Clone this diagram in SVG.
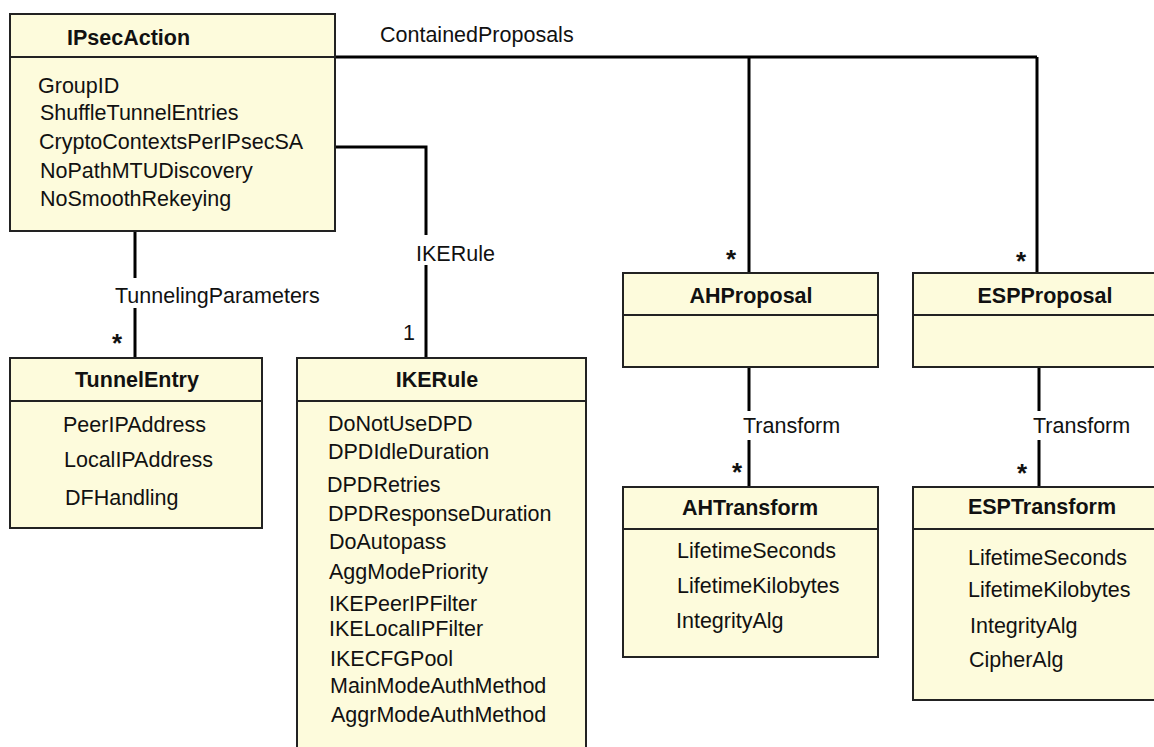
<svg xmlns="http://www.w3.org/2000/svg" width="1154" height="747" viewBox="0 0 1154 747">
<style>
.bg{fill:#ffffff}
.box{fill:#fdfbdc;stroke:#222;stroke-width:2}
.div{stroke:#222;stroke-width:2}
.conn{stroke:#000;stroke-width:3;fill:none}
text{font-family:"Liberation Sans",Arial,Helvetica,sans-serif;font-size:21.5px;fill:#111}
.ttl{font-weight:bold;text-anchor:middle}
.mid{text-anchor:middle}
.star{font-weight:bold;font-size:26px;text-anchor:middle}
</style>
<rect class="bg" x="0" y="0" width="1154" height="747"/>
<g id="connectors">
<path class="conn" d="M335,57 H1037 M749,57 V273 M1037,57 V273"/>
<path class="conn" d="M335,147 H426 V235 M426,265 V358"/>
<path class="conn" d="M135,231 V278 M135,308 V358"/>
<path class="conn" d="M749,367 V411 M749,440 V487"/>
<path class="conn" d="M1039,367 V411 M1039,440 V487"/>
<text x="380" y="42">ContainedProposals</text>
<text x="416" y="261">IKERule</text>
<text x="115" y="303">TunnelingParameters</text>
<text x="743" y="433">Transform</text>
<text x="1033" y="433">Transform</text>
<text x="403" y="340">1</text>
<text class="star" x="731" y="268">*</text>
<text class="star" x="1021" y="270">*</text>
<text class="star" x="117" y="352">*</text>
<text class="star" x="737" y="481">*</text>
<text class="star" x="1022" y="482">*</text>
</g>
<g id="IPsecAction">
<rect class="box" x="10" y="14" width="325" height="217"/>
<line class="div" x1="10" y1="57" x2="335" y2="57"/>
<text x="67" y="45" font-weight="bold">IPsecAction</text>
<text x="38" y="93">GroupID</text>
<text x="40" y="120">ShuffleTunnelEntries</text>
<text x="39" y="149">CryptoContextsPerIPsecSA</text>
<text x="40" y="178">NoPathMTUDiscovery</text>
<text x="40" y="206">NoSmoothRekeying</text>
</g>
<g id="TunnelEntry">
<rect class="box" x="10" y="358" width="252" height="170"/>
<line class="div" x1="10" y1="401" x2="262" y2="401"/>
<text class="ttl" x="137" y="387">TunnelEntry</text>
<text x="63" y="432">PeerIPAddress</text>
<text x="64" y="467">LocalIPAddress</text>
<text x="65" y="505">DFHandling</text>
</g>
<g id="IKERule">
<rect class="box" x="297" y="358" width="289" height="400"/>
<line class="div" x1="297" y1="401" x2="586" y2="401"/>
<text class="ttl" x="437" y="387">IKERule</text>
<text x="328" y="431">DoNotUseDPD</text>
<text x="328" y="459">DPDIdleDuration</text>
<text x="327" y="492">DPDRetries</text>
<text x="328" y="521">DPDResponseDuration</text>
<text x="329" y="549">DoAutopass</text>
<text x="329" y="579">AggModePriority</text>
<text x="329" y="611">IKEPeerIPFilter</text>
<text x="329" y="636">IKELocalIPFilter</text>
<text x="330" y="666">IKECFGPool</text>
<text x="330" y="693">MainModeAuthMethod</text>
<text x="331" y="722">AggrModeAuthMethod</text>
</g>
<g id="AHProposal">
<rect class="box" x="623" y="273" width="255" height="94"/>
<line class="div" x1="623" y1="315" x2="878" y2="315"/>
<text class="ttl" x="751" y="303">AHProposal</text>
</g>
<g id="ESPProposal">
<rect class="box" x="913" y="273" width="255" height="94"/>
<line class="div" x1="913" y1="315" x2="1168" y2="315"/>
<text class="ttl" x="1045" y="303">ESPProposal</text>
</g>
<g id="AHTransform">
<rect class="box" x="623" y="487" width="255" height="170"/>
<line class="div" x1="623" y1="529" x2="878" y2="529"/>
<text class="ttl" x="750" y="515">AHTransform</text>
<text x="677" y="558">LifetimeSeconds</text>
<text x="677" y="593">LifetimeKilobytes</text>
<text x="676" y="628">IntegrityAlg</text>
</g>
<g id="ESPTransform">
<rect class="box" x="913" y="487" width="255" height="213"/>
<line class="div" x1="913" y1="529" x2="1168" y2="529"/>
<text class="ttl" x="1042" y="514">ESPTransform</text>
<text x="968" y="565">LifetimeSeconds</text>
<text x="968" y="597">LifetimeKilobytes</text>
<text x="970" y="633">IntegrityAlg</text>
<text x="969" y="667">CipherAlg</text>
</g>
</svg>
